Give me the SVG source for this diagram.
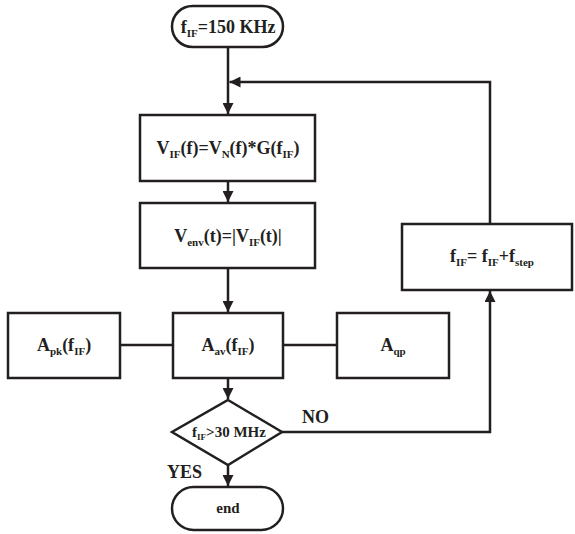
<svg xmlns="http://www.w3.org/2000/svg" width="575" height="534" viewBox="0 0 575 534">
<defs>
<style>
.s{fill:#fff;stroke:#231f20;stroke-width:2.5}
.l{fill:none;stroke:#231f20;stroke-width:2.5}
.t{font-family:"Liberation Serif","Times New Roman",serif;font-weight:bold;font-size:18px;fill:#231f20;text-anchor:middle}
.lb{font-family:"Liberation Serif","Times New Roman",serif;font-weight:bold;font-size:18px;fill:#231f20}
.sub{font-size:11px}
</style>
<marker id="ah" viewBox="0 0 10 10" refX="10" refY="5" markerWidth="4.4" markerHeight="4.4" markerUnits="strokeWidth" orient="auto">
<path d="M0,0 L10,5 L0,10 z" fill="#231f20"/>
</marker>
</defs>
<rect width="575" height="534" fill="#fff"/>
<g id="connectors">
<line class="l" x1="228" y1="47" x2="228" y2="114" marker-end="url(#ah)"/>
<polyline class="l" points="490,224 490,82 229.5,82" marker-end="url(#ah)"/>
<line class="l" x1="228" y1="181" x2="228" y2="202" marker-end="url(#ah)"/>
<line class="l" x1="228" y1="268" x2="228" y2="312" marker-end="url(#ah)"/>
<line class="l" x1="228" y1="378" x2="228" y2="399" marker-end="url(#ah)"/>
<line class="l" x1="120" y1="345" x2="173" y2="345"/>
<line class="l" x1="283" y1="345" x2="337" y2="345"/>
<polyline class="l" points="282,432 490,432 490,291" marker-end="url(#ah)"/>
<line class="l" x1="228" y1="465" x2="228" y2="486" marker-end="url(#ah)"/>
<text class="lb" x="302" y="423">NO</text>
<text class="lb" x="167" y="478">YES</text>
</g>
<g id="start">
<rect class="s" x="172" y="6" width="111" height="41" rx="20.5"/>
<text class="t" x="228" y="33">f<tspan class="sub" dy="4">IF</tspan><tspan dy="-4">=150 KHz</tspan></text>
</g>
<g id="vif">
<rect class="s" x="140" y="115" width="175" height="66"/>
<text class="t" x="228" y="154">V<tspan class="sub" dy="4">IF</tspan><tspan dy="-4">(f)=V</tspan><tspan class="sub" dy="4">N</tspan><tspan dy="-4">(f)*G(f</tspan><tspan class="sub" dy="4">IF</tspan><tspan dy="-4">)</tspan></text>
</g>
<g id="venv">
<rect class="s" x="140" y="203" width="175" height="65"/>
<text class="t" x="228" y="242">V<tspan class="sub" dy="4">env</tspan><tspan dy="-4">(t)=|V</tspan><tspan class="sub" dy="4">IF</tspan><tspan dy="-4">(t)|</tspan></text>
</g>
<g id="apk">
<rect class="s" x="8" y="313" width="112" height="65"/>
<text class="t" x="64" y="351">A<tspan class="sub" dy="4">pk</tspan><tspan dy="-4">(f</tspan><tspan class="sub" dy="4">IF</tspan><tspan dy="-4">)</tspan></text>
</g>
<g id="aav">
<rect class="s" x="173" y="313" width="110" height="65"/>
<text class="t" x="228" y="351">A<tspan class="sub" dy="4">av</tspan><tspan dy="-4">(f</tspan><tspan class="sub" dy="4">IF</tspan><tspan dy="-4">)</tspan></text>
</g>
<g id="aqp">
<rect class="s" x="337" y="313" width="112" height="65"/>
<text class="t" x="393" y="351">A<tspan class="sub" dy="4">qp</tspan></text>
</g>
<g id="step">
<rect class="s" x="402" y="224" width="170" height="66"/>
<text class="t" x="492" y="262">f<tspan class="sub" dy="4">IF</tspan><tspan dy="-4">= f</tspan><tspan class="sub" dy="4">IF</tspan><tspan dy="-4">+f</tspan><tspan class="sub" dy="4">step</tspan></text>
</g>
<g id="decision">
<polygon class="s" points="228,400 282,432 228,465 172,432"/>
<text class="t" x="229" y="437" style="font-size:15px">f<tspan style="font-size:9px" dy="3">IF</tspan><tspan dy="-3">&gt;30 MHz</tspan></text>
</g>
<g id="end">
<rect class="s" x="172" y="487" width="111" height="43" rx="21.5"/>
<text class="t" x="228" y="513" style="font-size:15px">end</text>
</g>
</svg>
